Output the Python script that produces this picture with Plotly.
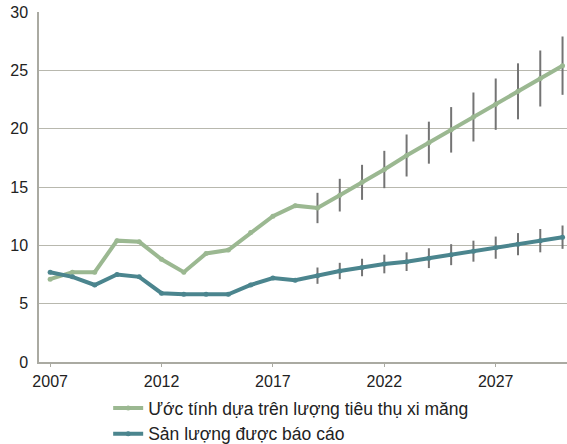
import plotly.graph_objects as go

years = list(range(2007, 2031))

# Ước tính dựa trên lượng tiêu thụ xi măng
estimate = [7.1, 7.7, 7.7, 10.4, 10.3, 8.8, 7.7, 9.3, 9.6, 11.1, 12.5, 13.4, 13.2,
            14.3, 15.4, 16.5, 17.7, 18.8, 19.9, 21.0, 22.1, 23.2, 24.3, 25.4]
# Sản lượng được báo cáo
reported = [7.7, 7.3, 6.6, 7.5, 7.3, 5.9, 5.8, 5.8, 5.8, 6.6, 7.2, 7.0, 7.4,
            7.8, 8.1, 8.4, 8.6, 8.9, 9.2, 9.5, 9.8, 10.1, 10.4, 10.7]

# forecast years with uncertainty ranges
fc_years = list(range(2019, 2031))
estimate_err = [1.3, 1.4, 1.5, 1.6, 1.8, 1.8, 1.95, 2.1, 2.2, 2.4, 2.4, 2.5]
reported_err = [0.7, 0.7, 0.75, 0.8, 0.8, 0.85, 0.9, 0.9, 0.95, 0.95, 1.0, 1.0]

GREEN = "#9bb891"
TEAL = "#4b858e"
ERR = "#747474"
AXIS = "#aaaaa2"

fig = go.Figure()

# --- error bars (drawn first, under the lines) ---
for series, errs in [(estimate, estimate_err), (reported, reported_err)]:
    fc_vals = series[len(years) - len(fc_years):]
    fig.add_trace(go.Scatter(
        x=fc_years, y=fc_vals, mode="markers",
        marker=dict(size=1, color="rgba(0,0,0,0)"),
        error_y=dict(type="data", array=errs, visible=True,
                     color=ERR, thickness=2, width=0),
        showlegend=False, hoverinfo="skip",
    ))

fig.add_trace(go.Scatter(
    x=years, y=estimate, mode="lines+markers",
    name="Ước tính dựa trên lượng tiêu thụ xi măng",
    line=dict(color=GREEN, width=4),
    marker=dict(size=5, color=GREEN),
))
fig.add_trace(go.Scatter(
    x=years, y=reported, mode="lines+markers",
    name="Sản lượng được báo cáo",
    line=dict(color=TEAL, width=4),
    marker=dict(size=5, color=TEAL),
))

fig.update_layout(
    width=567, height=444,
    paper_bgcolor="white", plot_bgcolor="white",
    font=dict(family="Liberation Sans, Arial, sans-serif", size=16, color="#222"),
    margin=dict(l=39, r=0, t=12, b=82, autoexpand=False),
    showlegend=True,
    legend=dict(orientation="v", x=0.131, xanchor="left", y=-0.08, yanchor="top",
                font=dict(size=17.5, color="#222"), itemwidth=30,
                bgcolor="rgba(0,0,0,0)", tracegroupgap=0),
)
fig.update_xaxes(
    range=[2006.5, 2030.2], tickvals=[2007, 2012, 2017, 2022, 2027],
    showgrid=False, showline=True, linecolor=AXIS, linewidth=1.5,
    ticks="outside", ticklen=3, tickcolor=AXIS, zeroline=False,
    automargin=False, ticklabelstandoff=1,
)
fig.update_yaxes(
    range=[0, 30], dtick=5, showgrid=True, gridcolor="#b8b8ae", gridwidth=1.2,
    showline=True, linecolor=AXIS, linewidth=1.5, zeroline=False,
    ticks="", automargin=False, ticklabelstandoff=6,
)

# drop the browser's default page margin so the figure fills the window
fig.write_html("out.html", config={"displayModeBar": False},
               post_script="document.body.style.margin='0';")
